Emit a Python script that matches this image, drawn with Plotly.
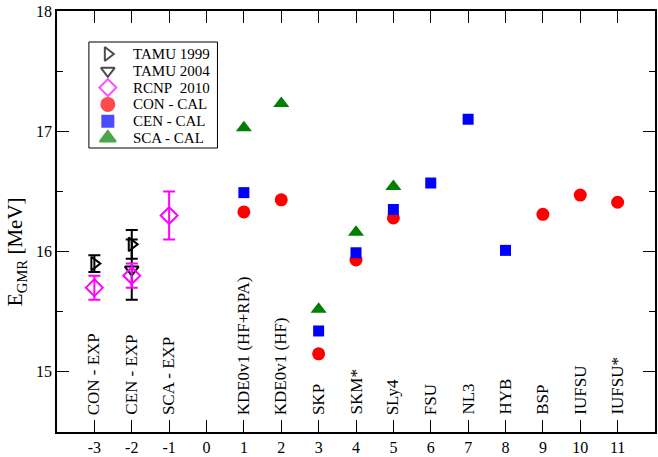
import plotly.graph_objects as go

# ---------------- data ----------------
tamu99_x = [-3, -2]
tamu99_y = [15.90, 16.06]
tamu99_err = [0.07, 0.12]

tamu04_x = [-2]
tamu04_y = [15.85]
tamu04_err = [0.25]

rcnp_x = [-3, -2, -1]
rcnp_y = [15.70, 15.80, 16.30]
rcnp_err = [0.10, 0.10, 0.20]

con_x = [1, 2, 3, 4, 5, 9, 10, 11]
con_y = [16.33, 16.43, 15.15, 15.93, 16.28, 16.31, 16.47, 16.41]

cen_x = [1, 3, 4, 5, 6, 7, 8]
cen_y = [16.49, 15.34, 15.99, 16.35, 16.57, 17.10, 16.01]

sca_x = [1, 2, 3, 4, 5]
sca_y = [17.03, 17.23, 15.52, 16.16, 16.54]

label_x = [-3, -2, -1, 1, 2, 3, 4, 5, 6, 7, 8, 9, 10, 11]
label_text = ["CON - EXP", "CEN - EXP", "SCA - EXP", "KDE0v1 (HF+RPA)", "KDE0v1 (HF)",
              "SKP", "SKM*", "SLy4", "FSU", "NL3", "HYB", "BSP", "IUFSU", "IUFSU*"]

x_ticks = list(range(-3, 12))
x_ticktext = ["-3", "-2", "-1", "0", "1", "2", "3", "4", "5", "6", "7", "8", "9", "10", "11"]
legend_names = ["TAMU 1999", "TAMU 2004", "RCNP  2010", "CON - CAL", "CEN - CAL", "SCA - CAL"]

# ---------------- styling ----------------
FONT = "Liberation Serif"
W, H = 658, 457
ML, MR, MT, MB = 57, 1, 11, 25
PW, PH = W - ML - MR, H - MT - MB


def px2paper(px, py):
    return (px - ML) / PW, (H - MB - py) / PH


fig = go.Figure()

fig.add_trace(go.Scatter(
    x=tamu99_x, y=tamu99_y, mode="markers", name=legend_names[0], showlegend=False,
    marker=dict(symbol="triangle-right-open", size=12, color="black", line=dict(width=2, color="black")),
    error_y=dict(type="data", array=tamu99_err, color="black", thickness=2, width=6)))
fig.add_trace(go.Scatter(
    x=tamu04_x, y=tamu04_y, mode="markers", name=legend_names[1], showlegend=False,
    marker=dict(symbol="triangle-down-open", size=12, color="black", line=dict(width=2, color="black")),
    error_y=dict(type="data", array=tamu04_err, color="black", thickness=2, width=6)))
fig.add_trace(go.Scatter(
    x=rcnp_x, y=rcnp_y, mode="markers", name=legend_names[2], showlegend=False,
    marker=dict(symbol="diamond-open", size=13, color="#ff00ff", line=dict(width=2, color="#ff00ff")),
    error_y=dict(type="data", array=rcnp_err, color="#ff00ff", thickness=2, width=6)))
fig.add_trace(go.Scatter(
    x=con_x, y=con_y, mode="markers", name=legend_names[3], showlegend=False,
    marker=dict(symbol="circle", size=13, color="#ff0000")))
fig.add_trace(go.Scatter(
    x=cen_x, y=cen_y, mode="markers", name=legend_names[4], showlegend=False,
    marker=dict(symbol="square", size=11, color="#0000ff")))
fig.add_trace(go.Scatter(
    x=sca_x, y=sca_y, mode="markers", name=legend_names[5], showlegend=False,
    marker=dict(symbol="triangle-up", size=14, color="#008000")))

# ---- rotated model labels ----
for xv, t in zip(label_x, label_text):
    fig.add_annotation(x=xv, y=14.625, xref="x", yref="y", text=t, textangle=-90,
                       showarrow=False, xanchor="center", yanchor="bottom",
                       font=dict(family=FONT, size=17, color="black"))

# ---- custom legend (box, symbols, text) ----
bx0, by0 = px2paper(89, 148)
bx1, by1 = px2paper(218, 42)
fig.add_shape(type="rect", xref="paper", yref="paper", x0=bx0, y0=by0, x1=bx1, y1=by1,
              line=dict(color="black", width=1), fillcolor="rgba(0,0,0,0)", layer="above")
leg_symbols = ["triangle-right-open", "triangle-down-open", "diamond-open", "circle", "square", "triangle-up"]
leg_colors = ["black", "black", "#ff00ff", "#ff0000", "#0000ff", "#008000"]
leg_sizes = [12, 12, 13, 13, 11, 14]
row_y = [54 + 16.8 * i for i in range(6)]
lx, ly = [], []
for ry in row_y:
    a, b = px2paper(108, ry)
    lx.append(a)
    ly.append(b)
fig.add_trace(go.Scatter(
    x=lx, y=ly, xaxis="x2", yaxis="y2", mode="markers", showlegend=False, cliponaxis=False,
    marker=dict(symbol=leg_symbols, color=leg_colors, size=leg_sizes,
                line=dict(width=2, color=leg_colors))))
for name, ry in zip(legend_names, row_y):
    a, b = px2paper(131, ry)
    fig.add_annotation(x=a, y=b, xref="paper", yref="paper", text=name.replace("  ", "&nbsp; "),
                       showarrow=False, xanchor="left", yanchor="middle",
                       font=dict(family=FONT, size=15, color="black"))

# ---- y-axis title ----
tx, ty = px2paper(16, 252)
fig.add_annotation(x=tx, y=ty, xref="paper", yref="paper", text="E<sub>GMR</sub> [MeV]",
                   textangle=-90, showarrow=False, xanchor="center", yanchor="middle",
                   font=dict(family=FONT, size=21, color="black"))

axis_common = dict(showline=True, linecolor="black", linewidth=1.5, mirror="allticks",
                   ticks="inside", tickcolor="black", tickwidth=1, showgrid=False, zeroline=False,
                   tickfont=dict(family=FONT, size=16, color="black"))

fig.update_layout(
    width=W, height=H, margin=dict(l=ML, r=MR, t=MT, b=MB),
    paper_bgcolor="white", plot_bgcolor="white", showlegend=False,
    xaxis=dict(range=[-4, 12], tickmode="array", tickvals=x_ticks, ticktext=x_ticktext,
               ticklen=12, **axis_common),
    yaxis=dict(range=[14.5, 18], tickmode="linear", tick0=15, dtick=1, ticklen=12,
               minor=dict(dtick=0.5, tick0=14.5, ticklen=6, ticks="inside", tickcolor="black"),
               **axis_common),
    xaxis2=dict(overlaying="x", range=[0, 1], visible=False, fixedrange=True),
    yaxis2=dict(overlaying="y", range=[0, 1], visible=False, fixedrange=True),
)

fig.write_html("out.html")
